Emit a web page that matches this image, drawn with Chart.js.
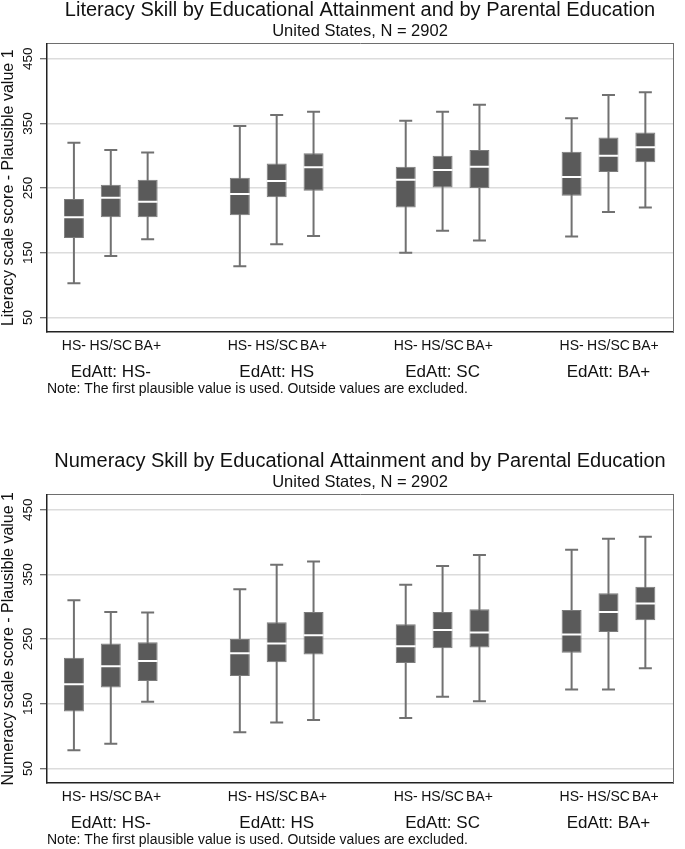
<!DOCTYPE html>
<html>
<head>
<meta charset="utf-8">
<title>Literacy / Numeracy by Educational Attainment</title>
<script src="https://cdn.jsdelivr.net/npm/chart.js@4/dist/chart.umd.min.js"></script>
<style>
  html, body { margin: 0; padding: 0; background: #fff; overflow: hidden; }
  .panel { position: absolute; left: 0; width: 685px; height: 451px; }
  #top_panel { top: 0; }
  #bottom_panel { top: 451px; }
</style>
</head>
<body>
<div class="panel" id="top_panel"><canvas id="lit_canvas" width="685" height="451"></canvas></div>
<div class="panel" id="bottom_panel"><canvas id="num_canvas" width="685" height="451"></canvas></div>
<script>
// groups on the x axis (respondent's attainment) and boxes inside each group (parental education)
var groupLabels = ['EdAtt: HS-', 'EdAtt: HS', 'EdAtt: SC', 'EdAtt: BA+'];
var parentLabels = ['HS-', 'HS/SC', 'BA+'];
var yTicks = [50, 150, 250, 350, 450];

// literacy, 12 boxes: group by group, HS- / HS/SC / BA+
var litMin = [103, 145, 171, 129, 163, 176, 150, 184, 169, 175, 213, 220];
var litQ1  = [173, 205, 205, 208, 236, 246, 220, 251, 250, 238, 275, 290];
var litMed = [205, 235, 229, 241, 261, 282, 263, 278, 283, 267, 300, 313];
var litQ3  = [233, 255, 263, 266, 288, 304, 283, 300, 309, 306, 328, 336];
var litMax = [320, 309, 305, 346, 363, 368, 354, 368, 379, 358, 394, 398];

// numeracy, same order
var numMin = [78, 88, 153, 106, 121, 125, 128, 161, 154, 172, 172, 205];
var numQ1  = [138, 175, 185, 193, 214, 226, 213, 236, 237, 229, 261, 279];
var numMed = [180, 208, 216, 228, 243, 256, 239, 264, 260, 257, 292, 305];
var numQ3  = [221, 243, 245, 250, 276, 292, 273, 292, 296, 295, 321, 331];
var numMax = [310, 292, 291, 327, 365, 370, 334, 363, 380, 388, 405, 408];

var FONT = "'Liberation Sans', Arial, sans-serif";
var BOX_COLOR = '#5a5a5a';
var WHISKER_COLOR = '#717171';
var GROUP_STEP = 4.5;   // x units from one group to the next

// x position of box i inside group g
function boxPos(g, i){ return g * GROUP_STEP + i; }

var boxX = [], boxLabel = [], groupX = [];
for (var g = 0; g < groupLabels.length; g++){
	for (var i = 0; i < parentLabels.length; i++){
		boxX.push(boxPos(g, i));
		boxLabel.push(parentLabels[i]);
	}
	groupX.push(boxPos(g, 1));
}

function labelAt(xs, labels, v){
	for (var k = 0; k < xs.length; k++){
		if (Math.abs(xs[k] - v) < 1e-6) return labels[k];
	}
	return '';
}

function makeChart(canvasId, title, yTitle, mins, q1s, meds, q3s, maxs){
	var whisker = [], box = [], med = [], caps = [];
	for (var k = 0; k < boxX.length; k++){
		whisker.push({x: boxX[k], y: [mins[k], maxs[k]]});
		box.push({x: boxX[k], y: [q1s[k], q3s[k]]});
		med.push({x: boxX[k], y: meds[k]});
		caps.push({x: boxX[k], y: mins[k]});
		caps.push({x: boxX[k], y: maxs[k]});
	}
	var xMin = -0.73, xMax = 16.25;

	var ctx = document.getElementById(canvasId).getContext('2d');
	return new Chart(ctx, {
		type: 'bar',
		data: {
			datasets: [
				{ type: 'scatter', label: 'median', data: med, order: 0,
				  pointStyle: 'line', radius: 10, hoverRadius: 10, borderColor: '#ffffff', borderWidth: 2 },
				{ label: 'box', data: box, order: 1, grouped: false, maxBarThickness: 20,
				  backgroundColor: BOX_COLOR, borderColor: '#7b7b7b', borderWidth: 1, borderSkipped: false },
				{ type: 'scatter', label: 'caps', data: caps, order: 2,
				  pointStyle: 'line', radius: 6.5, hoverRadius: 6.5, borderColor: WHISKER_COLOR, borderWidth: 2 },
				{ label: 'whisker', data: whisker, order: 3, grouped: false, maxBarThickness: 2,
				  backgroundColor: WHISKER_COLOR, borderWidth: 0 }
			]
		},
		options: {
			responsive: false,
			animation: false,
			layout: { padding: { left: 0, right: 1.5, top: 0, bottom: 53 } },
			plugins: {
				legend: { display: false },
				title: { display: true, text: title, color: '#111', fullSize: false,
					font: { family: FONT, size: 20, weight: 'normal', lineHeight: 1 }, padding: { top: 0, bottom: 0 } },
				subtitle: { display: true, text: 'United States, N = 2902', color: '#111', fullSize: false,
					font: { family: FONT, size: 16.5, weight: 'normal', lineHeight: 1 }, padding: { top: 3, bottom: 4 } }
			},
			scales: {
				x: {
					type: 'linear', position: 'bottom', min: xMin, max: xMax, offset: false, weight: 0,
					afterBuildTicks: function(scale){ scale.ticks = boxX.map(function(v){ return {value: v}; }); },
					afterFit: function(scale){ scale.height = 22; },
					ticks: { autoSkip: false, maxRotation: 0, padding: 6, color: '#111',
						font: { family: FONT, size: 14 },
						callback: function(v){ return labelAt(boxX, boxLabel, v); } },
					grid: { display: false, drawTicks: false },
					border: { display: true, color: '#222', width: 1.5 }
				},
				xg: {
					type: 'linear', position: 'bottom', min: xMin, max: xMax, offset: false, weight: 1,
					afterBuildTicks: function(scale){ scale.ticks = groupX.map(function(v){ return {value: v}; }); },
					afterFit: function(scale){ scale.height = 44; },
					ticks: { autoSkip: false, maxRotation: 0, padding: 8, color: '#111',
						font: { family: FONT, size: 17 },
						callback: function(v){ return labelAt(groupX, groupLabels, v); } },
					grid: { display: false, drawTicks: false },
					border: { display: false },
					title: { display: true, align: 'start', color: '#111',
						text: 'Note: The first plausible value is used. Outside values are excluded.',
						font: { family: FONT, size: 14 }, padding: { top: 0, bottom: 0 } }
				},
				xTop: {
					type: 'linear', position: 'top', min: xMin, max: xMax,
					ticks: { display: false }, grid: { display: false, drawTicks: false },
					border: { display: true, color: '#6e6e6e', width: 1 }
				},
				y: {
					type: 'linear', position: 'left', min: 27.5, max: 473.5,
					afterBuildTicks: function(scale){ scale.ticks = yTicks.map(function(v){ return {value: v}; }); },
					afterFit: function(scale){ scale.width = 47; },
					ticks: { minRotation: 90, maxRotation: 90, crossAlign: 'center', padding: 0, color: '#111',
						font: { family: FONT, size: 13.5 } },
					grid: { color: '#dcdcdc', lineWidth: 1.5, tickColor: '#444', tickWidth: 1, tickLength: 7 },
					border: { display: true, color: '#222', width: 1.5 },
					title: { display: true, text: yTitle, color: '#111',
						font: { family: FONT, size: 16, lineHeight: 1 }, padding: { top: 1, bottom: 0 } }
				},
				yRight: {
					type: 'linear', position: 'right', min: 27.5, max: 473.5,
					ticks: { display: false }, grid: { display: false, drawTicks: false },
					border: { display: true, color: '#6e6e6e', width: 1 }
				}
			}
		}
	});
}

window.litChart = makeChart('lit_canvas', 'Literacy Skill by Educational Attainment and by Parental Education',
	'Literacy scale score - Plausible value 1', litMin, litQ1, litMed, litQ3, litMax);
window.numChart = makeChart('num_canvas', 'Numeracy Skill by Educational Attainment and by Parental Education',
	'Numeracy scale score - Plausible value 1', numMin, numQ1, numMed, numQ3, numMax);
console.log(window.litChart.chartArea, window.numChart.chartArea);
</script>
</body>
</html>
